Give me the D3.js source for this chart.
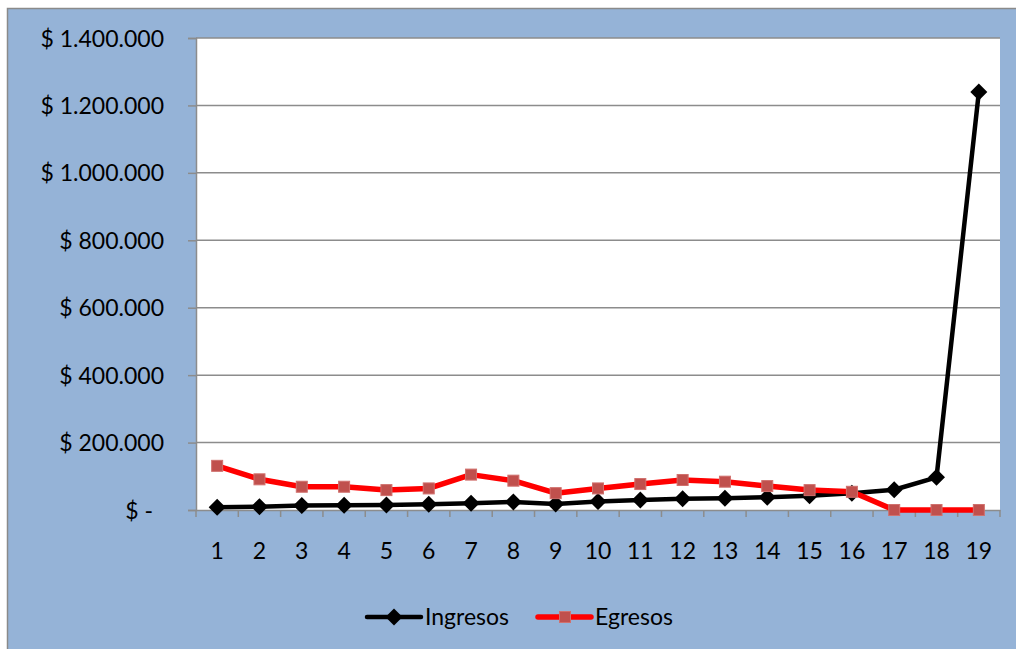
<!DOCTYPE html>
<html>
<head>
<meta charset="utf-8">
<script src="https://cdn.jsdelivr.net/npm/d3@7/dist/d3.min.js"></script>
<style>
  html, body { margin: 0; padding: 0; background: #ffffff; }
  svg { display: block; }
  text { font-family: Lato, "Open Sans", sans-serif; fill: #000; }
</style>
</head>
<body>
<svg id="chart" width="1016" height="649"></svg>
<script>
// Periods on the horizontal axis
const periods = [1, 2, 3, 4, 5, 6, 7, 8, 9, 10, 11, 12, 13, 14, 15, 16, 17, 18, 19];

// Income per period
const ingresos = [8000, 10000, 13000, 14000, 15000, 17000, 20000, 24000, 18000, 25000,
                  30000, 33000, 35000, 38000, 42000, 50000, 60000, 97000, 1240000];

// Expenses per period
const egresos = [131000, 91000, 69000, 69000, 59000, 64000, 105000, 87000, 50000, 64000,
                 77000, 89000, 84000, 71000, 59000, 54000, 0, 0, 0];

// Value axis ticks and their labels
const yTicks = [0, 200000, 400000, 600000, 800000, 1000000, 1200000, 1400000];
const yTickLabels = ["$ -", "$ 200.000", "$ 400.000", "$ 600.000", "$ 800.000",
                     "$ 1.000.000", "$ 1.200.000", "$ 1.400.000"];

const seriesNames = ["Ingresos", "Egresos"];

const svg = d3.select("#chart");
const W = 1016, H = 649;
const plot = { left: 196, right: 1000, top: 38, bottom: 510 };
const fontSize = 23;

// Chart frame
svg.append("rect")
  .attr("x", 7.5).attr("y", 8.5)
  .attr("width", W).attr("height", H)
  .attr("fill", "#95b3d7")
  .attr("stroke", "#8a8a8a")
  .attr("stroke-width", 1.5);

// Plot area
svg.append("rect")
  .attr("x", plot.left).attr("y", plot.top)
  .attr("width", plot.right - plot.left).attr("height", plot.bottom - plot.top)
  .attr("fill", "#ffffff");

const x = d3.scaleBand().domain(periods).range([plot.left, plot.right]).padding(0);
const y = d3.scaleLinear().domain([0, 1400000]).range([plot.bottom, plot.top]);

// Horizontal gridlines
svg.append("g")
  .selectAll("line")
  .data(yTicks.filter(d => d > 0))
  .join("line")
  .attr("x1", plot.left).attr("x2", plot.right)
  .attr("y1", d => y(d)).attr("y2", d => y(d))
  .attr("stroke", "#8c8c8c")
  .attr("stroke-width", 1.5);

// Value axis
const yAxis = svg.append("g")
  .attr("transform", `translate(${plot.left},0)`)
  .call(d3.axisLeft(y)
    .tickValues(yTicks)
    .tickSize(8)
    .tickPadding(0)
    .tickFormat((d, i) => yTickLabels[i]));
yAxis.select(".domain").attr("stroke", "#8c8c8c").attr("stroke-width", 1.5);
yAxis.selectAll(".tick line").attr("stroke", "#8c8c8c").attr("stroke-width", 1.5);
yAxis.selectAll(".tick text")
  .attr("x", d => d === 0 ? -43 : -32)
  .attr("dy", "0.35em")
  .style("font-size", fontSize + "px")
  .style("font-family", "Lato, 'Open Sans', sans-serif")
  .attr("fill", "#000");

// Category axis with ticks on band boundaries
const xAxis = svg.append("g")
  .attr("transform", `translate(0,${plot.bottom})`)
  .call(d3.axisBottom(x).tickSize(0).tickPadding(0));
xAxis.select(".domain").attr("stroke", "#8c8c8c").attr("stroke-width", 1.5);
xAxis.selectAll(".tick text")
  .attr("y", 49)
  .attr("dy", 0)
  .style("font-size", fontSize + "px")
  .style("font-family", "Lato, 'Open Sans', sans-serif")
  .attr("fill", "#000");
const boundaries = periods.map(p => x(p)).concat([x(periods[periods.length - 1]) + x.bandwidth()]);
xAxis.selectAll(".bound")
  .data(boundaries)
  .join("line")
  .attr("class", "bound")
  .attr("x1", d => d).attr("x2", d => d)
  .attr("y1", 0).attr("y2", 7)
  .attr("stroke", "#8c8c8c")
  .attr("stroke-width", 1.5);

const cx = p => x(p) + x.bandwidth() / 2;
const line = d3.line().x(d => cx(d.p)).y(d => y(d.v));

const ingData = periods.map((p, i) => ({ p, v: ingresos[i] }));
const egrData = periods.map((p, i) => ({ p, v: egresos[i] }));

const diamond = r => `M0,${-r}L${r},0L0,${r}L${-r},0Z`;

// Ingresos series
svg.append("path")
  .datum(ingData)
  .attr("d", line)
  .attr("fill", "none")
  .attr("stroke", "#000")
  .attr("stroke-width", 4.5)
  .attr("stroke-linejoin", "round");
svg.append("g")
  .selectAll("path")
  .data(ingData)
  .join("path")
  .attr("transform", d => `translate(${cx(d.p)},${y(d.v)})`)
  .attr("d", diamond(8.5))
  .attr("fill", "#000");

// Egresos series
svg.append("path")
  .datum(egrData)
  .attr("d", line)
  .attr("fill", "none")
  .attr("stroke", "#ff0000")
  .attr("stroke-width", 5.5)
  .attr("stroke-linejoin", "round");
svg.append("g")
  .selectAll("rect")
  .data(egrData)
  .join("rect")
  .attr("x", d => cx(d.p) - 5.5)
  .attr("y", d => y(d.v) - 5.5)
  .attr("width", 11).attr("height", 11)
  .attr("fill", "#c0504d")
  .attr("stroke", "#d0706d")
  .attr("stroke-width", 1);

// Legend
const legendY = 617;
const lg = svg.append("g");
// Ingresos entry
lg.append("line")
  .attr("x1", 367).attr("x2", 421).attr("y1", legendY).attr("y2", legendY)
  .attr("stroke", "#000").attr("stroke-width", 4.5).attr("stroke-linecap", "round");
lg.append("path")
  .attr("transform", `translate(394,${legendY})`)
  .attr("d", diamond(8.5))
  .attr("fill", "#000");
lg.append("text")
  .attr("x", 425).attr("y", legendY).attr("dy", "0.35em")
  .style("font-size", fontSize + "px")
  .text(seriesNames[0]);
// Egresos entry
lg.append("line")
  .attr("x1", 538).attr("x2", 591).attr("y1", legendY).attr("y2", legendY)
  .attr("stroke", "#ff0000").attr("stroke-width", 5.5).attr("stroke-linecap", "round");
lg.append("rect")
  .attr("x", 559.5).attr("y", legendY - 5.5)
  .attr("width", 11).attr("height", 11)
  .attr("fill", "#c0504d").attr("stroke", "#d0706d").attr("stroke-width", 1);
lg.append("text")
  .attr("x", 595).attr("y", legendY).attr("dy", "0.35em")
  .style("font-size", fontSize + "px")
  .text(seriesNames[1]);
</script>
</body>
</html>
